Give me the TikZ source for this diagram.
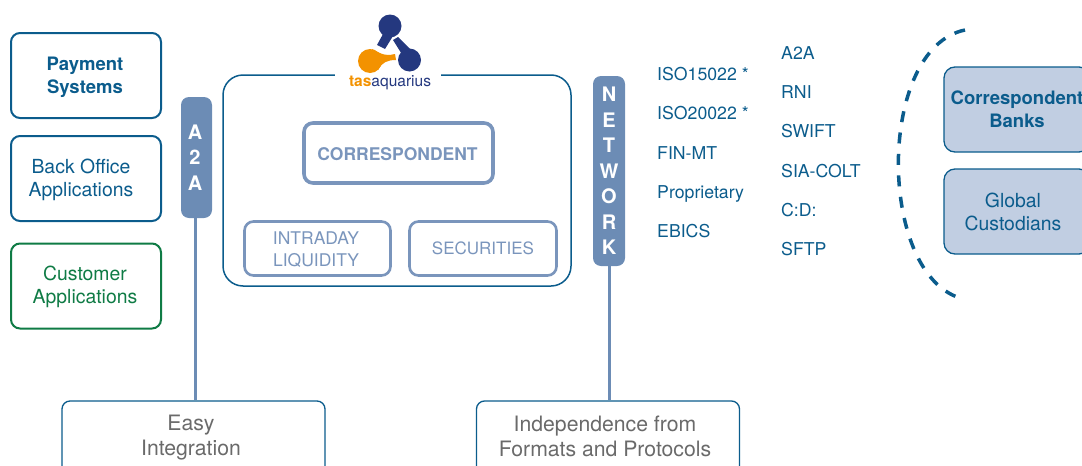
\documentclass[tikz,border=0pt]{standalone}
\usepackage{fontspec}
\setmainfont{TeX Gyre Heros}
\usetikzlibrary{positioning}
\usetikzlibrary{calc}
\definecolor{teal1}{HTML}{0B5C8C}
\definecolor{pill}{HTML}{6C8CB5}
\definecolor{soft}{HTML}{7A95BC}
\definecolor{pale}{HTML}{C1CEE2}
\definecolor{green1}{HTML}{0F7B45}
\definecolor{grey1}{HTML}{6A6A6A}
\definecolor{navy1}{HTML}{24387F}
\definecolor{orange1}{HTML}{F39200}
\begin{document}
\begin{tikzpicture}[x=1pt,y=-1pt,
sys/.style={draw=teal1,line width=2pt,rounded corners=9pt,minimum width=150pt,minimum height=85pt},
inner/.style={draw=soft,rounded corners=9pt,align=center,text=soft,font=\fontsize{17.5}{22}\selectfont},
pillbox/.style={fill=pill,rounded corners=8pt,align=center,text=white,font=\bfseries\fontsize{20}{20}\selectfont,inner sep=0pt},
ext/.style={draw=teal1,line width=1.3pt,fill=pale,rounded corners=11pt,minimum width=146pt,minimum height=85pt},
goal/.style={draw=teal1,line width=1.3pt,fill=white,rounded corners=8pt,minimum width=263pt,minimum height=80pt},
lbl/.style={text=teal1,align=center,font=\fontsize{19.4}{23}\selectfont},
goallbl/.style={text=grey1,align=center,font=\fontsize{21.2}{25}\selectfont},
item/.style={text=teal1,anchor=west,inner sep=0pt,text height=13pt,text depth=1pt,font=\fontsize{17.7}{20}\selectfont},
link/.style={draw=pill,line width=3pt}]
\useasboundingbox (0,0) rectangle (1082,466);
\clip (0,0) rectangle (1082,466);
% left column
\node (pay) at (86,75.5) [sys] {};
\node (payl) at (85,77) [lbl,font=\fontsize{18.5}{23}\selectfont] {\textbf{Payment}\\\textbf{Systems}};
\node (back) at (86,178.5) [sys] {};
\node (backl) at (81,180) [lbl] {Back Office\\Applications};
\node (cust) at (86,286) [sys,draw=green1] {};
\node (custl) at (85,287) [lbl,text=green1] {Customer\\Applications};
% bottom boxes
\node (easy) at (193.5,441) [goal] {};
\node (easyl) at (191,438) [goallbl] {Easy\\Integration};
\node (indep) at (608,441) [goal] {};
\node (indepl) at (605,436) [goallbl] {Independence from\\Formats and Protocols};
% pills
\node (a2a) at (196.5,157.5) [pillbox,minimum width=31pt,minimum height=121pt] {\hspace{-3pt}A\\[5.5pt]\hspace{-3pt}2\\[5.5pt]\hspace{-3pt}A};
\node (net) at (609,171) [pillbox,minimum width=32pt,minimum height=190pt] {N\\[5.5pt]E\\[5.5pt]T\\[5.5pt]W\\[5.5pt]O\\[5.5pt]R\\[5.5pt]K};
\draw[link] ([xshift=-1.5pt]a2a.south) -- ([xshift=-1.5pt]a2a.south |- easy.north);
\draw[link] (net.south) -- (net.south |- indep.north);
% main box
\node (main) at (397,180.5) [draw=teal1,line width=1.5pt,rounded corners=20pt,minimum width=348pt,minimum height=211pt] {};
\fill[white] (335,70) rectangle (441,80);
\node (corr) at (398.5,153) [inner,line width=3.6pt,minimum width=189pt,minimum height=60pt] {};
\node (corrl) at (397.5,154) [inner,draw=none,font=\bfseries\fontsize{17.5}{21}\selectfont] {CORRESPONDENT};
\node (intra) at (317.5,248.5) [inner,line width=2.6pt,minimum width=146pt,minimum height=54pt] {};
\node (intral) at (316,249.5) [inner,draw=none] {INTRADAY\\LIQUIDITY};
\node (sec) at (483,248.5) [inner,line width=2.6pt,minimum width=147pt,minimum height=54pt,font=\fontsize{17}{21}\selectfont] {SECURITIES};
% logo
\fill[navy1] (390,26) circle (11.5);
\fill[navy1] (383,34) -- (393,36) -- (385,49) -- (377,45) -- cycle;
\fill[navy1] (409.5,60) circle (11.5);
\fill[navy1] (393,40) -- (398,37) -- (411,50) -- (403,56) -- cycle;
\fill[orange1] (370,61) circle (12);
\fill[orange1] (372,49) .. controls (378,52) and (384,57) .. (395,54) -- (396,60) .. controls (388,60) and (382,62) .. (378,70) -- cycle;
\node (logo) at (390,83) [inner sep=0pt,font=\fontsize{15.5}{18}\selectfont] {\textcolor{orange1}{\textbf{tas}}\textcolor{navy1}{aquarius}};
% protocol lists
\foreach \t/\y in {ISO15022 */74,ISO20022 */113,FIN-MT/153,Proprietary/192,EBICS/231} {
\node at (657,\y) [item] {\t};
}
\foreach \t/\y in {A2A/53,RNI/92,SWIFT/131,SIA-COLT/171,C:D:/210,SFTP/249} {
\node at (781,\y) [item] {\t};
}
% right side
\draw[teal1,line width=3.5pt,dash pattern=on 11pt off 10.5pt] (965,30) .. controls (877,48) and (877,272) .. (960,298);
\node (bank) at (1017,109.5) [ext] {};
\node (bankl) at (1017,109) [lbl,font=\fontsize{18.5}{23}\selectfont] {\textbf{Correspondent}\\\textbf{Banks}};
\node (glob) at (1017,211.5) [ext] {};
\node (globl) at (1013,212) [lbl] {Global\\Custodians};
\end{tikzpicture}
\end{document}
